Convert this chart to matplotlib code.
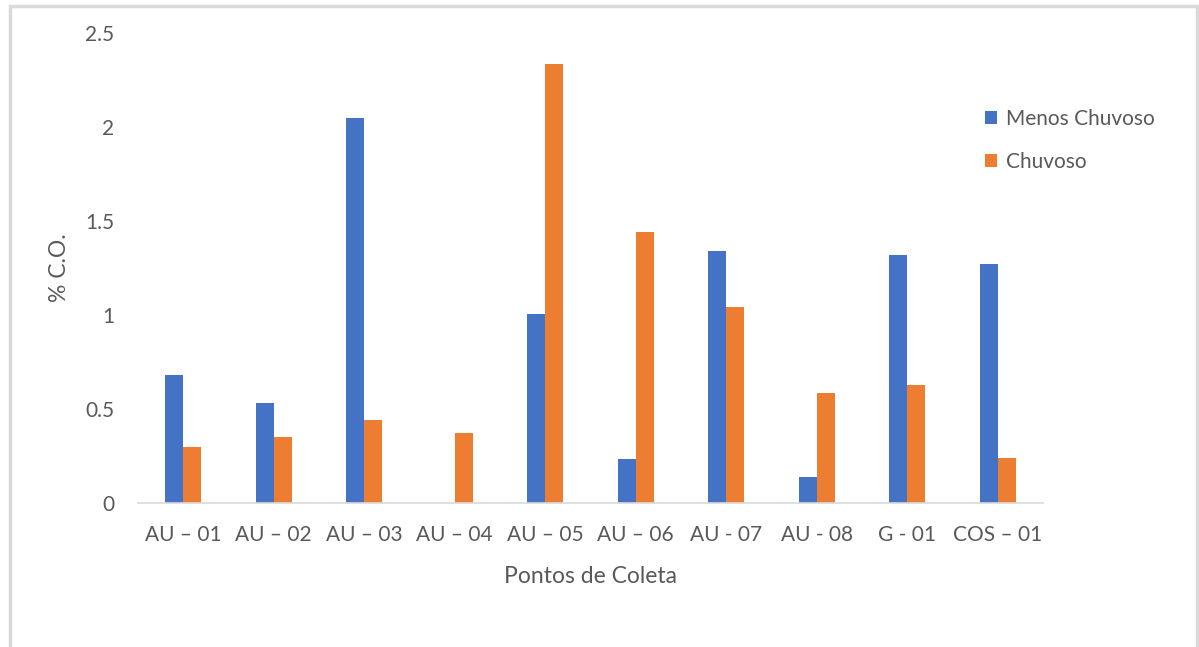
import numpy as np
import matplotlib
matplotlib.use("Agg")
import matplotlib.pyplot as plt
from matplotlib.patches import Rectangle

# data
pontos = ["AU – 01", "AU – 02", "AU – 03", "AU – 04", "AU – 05",
          "AU – 06", "AU - 07", "AU - 08", "G - 01", "COS – 01"]
menos_chuvoso = [0.68, 0.53, 2.05, 0.0, 1.005, 0.235, 1.34, 0.14, 1.32, 1.27]
chuvoso = [0.30, 0.35, 0.44, 0.37, 2.335, 1.44, 1.04, 0.585, 0.63, 0.24]

azul = "#4472C4"
laranja = "#ED7D31"
cinza = "#595959"

plt.rcParams['font.family'] = ['Lato', 'DejaVu Sans']

fig = plt.figure(figsize=(11.99, 6.47), dpi=100)
ax = fig.add_axes([138/1199, 144/647, 905/1199, 470/647])

x = np.arange(len(pontos))
w = 0.2
ax.bar(x - w/2, menos_chuvoso, w, color=azul, label="Menos Chuvoso")
ax.bar(x + w/2, chuvoso, w, color=laranja, label="Chuvoso")

ax.set_xlim(-0.5, len(pontos) - 0.5)
ax.set_ylim(0, 2.5)
ax.set_yticks([0, 0.5, 1, 1.5, 2, 2.5])
ax.set_yticklabels(["0", "0.5", "1", "1.5", "2", "2.5"])
ax.set_xticks(x)
ax.set_xticklabels(pontos)
ax.tick_params(axis='both', length=0, labelsize=15, colors=cinza)
ax.tick_params(axis='x', pad=16)
ax.tick_params(axis='y', pad=17)

for s in ["top", "right", "left"]:
    ax.spines[s].set_visible(False)
ax.spines["bottom"].set_color("#D9D9D9")
ax.spines["bottom"].set_linewidth(1.2)

ax.set_xlabel("Pontos de Coleta", fontsize=16.5, color=cinza, labelpad=15)
ax.set_ylabel("% C.O.", fontsize=16.5, color=cinza, labelpad=11)

leg = ax.legend(loc="upper left", bbox_to_anchor=(0.915, 0.878), frameon=False,
                fontsize=15, handlelength=0.6, handleheight=0.6,
                handletextpad=0.4, labelspacing=1.1)
for t in leg.get_texts():
    t.set_color(cinza)

# outer border of the chart area
fig.patches.append(Rectangle((10/1199, -0.05), 1187/1199, 1.05 - 6/647,
                             transform=fig.transFigure, fill=False,
                             edgecolor="#D9D9D9", linewidth=2.5))

fig.savefig("out.png", dpi=100, facecolor="white")
